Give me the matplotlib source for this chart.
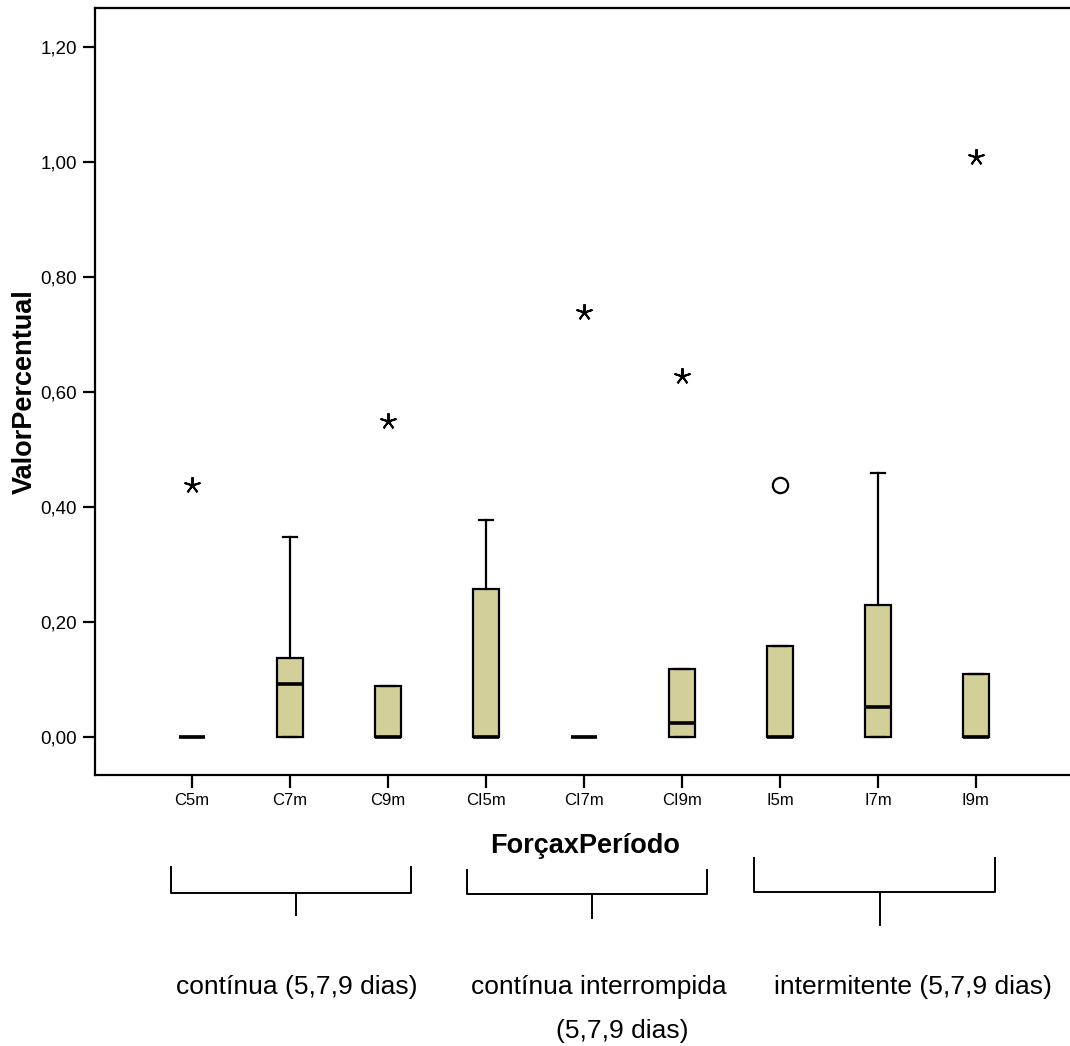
import numpy as np
import matplotlib
matplotlib.use("Agg")
import matplotlib.pyplot as plt
from matplotlib.transforms import blended_transform_factory

plt.rcParams['font.family'] = ['Liberation Sans', 'DejaVu Sans']

# box statistics
categories = ['C5m', 'C7m', 'C9m', 'CI5m', 'CI7m', 'CI9m', 'I5m', 'I7m', 'I9m']
q1 = [0.0, 0.0, 0.0, 0.0, 0.0, 0.0, 0.0, 0.0, 0.0]
medians = [0.0, 0.093, 0.0, 0.0, 0.0, 0.024, 0.0, 0.053, 0.0]
q3 = [0.0, 0.138, 0.088, 0.258, 0.0, 0.119, 0.159, 0.229, 0.109]
whis_hi = [0.0, 0.348, 0.088, 0.378, 0.0, 0.119, 0.159, 0.459, 0.109]
# extreme values (stars) and outliers (circles)
extreme_cat = ['C5m', 'C9m', 'CI7m', 'CI9m', 'I9m']
extreme_val = [0.438, 0.55, 0.739, 0.628, 1.009]
outlier_cat = ['I5m']
outlier_val = [0.438]

group_line1 = ['contínua (5,7,9 dias)', 'contínua interrompida', 'intermitente (5,7,9 dias)']
group_line2 = ['', '(5,7,9 dias)', '']

yticks = [0.0, 0.2, 0.4, 0.6, 0.8, 1.0, 1.2]

fig = plt.figure(figsize=(10.70, 10.46), dpi=100)
ax = fig.add_axes([95 / 1070, 1 - 775 / 1046, 1 - 95 / 1070, 767 / 1046])

pos = np.arange(len(categories))
stats = []
for i, c in enumerate(categories):
    stats.append(dict(label=c, q1=q1[i], med=medians[i], q3=q3[i],
                      whislo=q1[i], whishi=whis_hi[i], fliers=[]))

ax.bxp(stats, positions=pos, widths=0.27, showfliers=False, patch_artist=True,
       boxprops=dict(facecolor='#d3cf98', edgecolor='black', linewidth=1.6),
       medianprops=dict(color='black', linewidth=2.6, solid_capstyle='butt'),
       whiskerprops=dict(color='black', linewidth=1.6),
       capprops=dict(color='black', linewidth=1.6), capwidths=0.14)

ex_x = [categories.index(c) for c in extreme_cat]
ax.plot(ex_x, extreme_val, linestyle='none', marker=(5, 2, 0), markersize=12,
        markeredgewidth=1.4, color='black')
out_x = [categories.index(c) for c in outlier_cat]
ax.plot(out_x, outlier_val, linestyle='none', marker='o', markersize=11,
        markerfacecolor='white', markeredgecolor='black', markeredgewidth=1.6)

ax.set_xlim(-0.99, 8.96)
ax.set_ylim(-0.066, 1.268)
ax.set_xticks(pos)
ax.set_xticklabels(categories, fontsize=12)
ax.set_yticks(yticks)
ax.set_yticklabels([f'{v:.2f}'.replace('.', ',') for v in yticks], fontsize=13.5)
ax.tick_params(direction='out', length=9, width=1.6, pad=4)
for s in ['left', 'bottom', 'top']:
    ax.spines[s].set_linewidth(1.6)
ax.spines['right'].set_visible(False)

ax.set_xlabel('ForçaxPeríodo', fontsize=19.5, fontweight='bold')
ax.xaxis.set_label_coords((585 - 95) / 975, -(833 - 775) / 767)
ax.set_ylabel('ValorPercentual', fontsize=19.5, fontweight='bold')
ax.yaxis.set_label_coords(-(95 - 38) / 975, (775 - 392) / 767)

# group brackets below the axis
tr = blended_transform_factory(ax.transData, fig.transFigure)
br_left = [-0.21, 2.81, 5.74]
br_right = [2.23, 5.26, 8.19]
br_stem_x = [1.06, 4.08, 7.02]
br_top = [867, 870, 858]
br_bar = [893, 894, 892]
br_stem = [915, 918, 925]
txt_x1 = [1.07, 4.15, 7.36]
txt_x2 = [1.07, 4.39, 7.36]
for g in range(len(group_line1)):
    x0, x1, xc = br_left[g], br_right[g], br_stem_x[g]
    yt, yb, ys = [1 - v / 1046 for v in (br_top[g], br_bar[g], br_stem[g])]
    ax.plot([x0, x0, x1, x1], [yt, yb, yb, yt], color='black', linewidth=1.4,
            transform=tr, clip_on=False)
    ax.plot([xc, xc], [yb, ys], color='black', linewidth=1.4,
            transform=tr, clip_on=False)
    ax.text(txt_x1[g], 1 - 975 / 1046, group_line1[g],
            transform=tr, ha='center', va='top', fontsize=19)
    if group_line2[g]:
        ax.text(txt_x2[g], 1 - 1019 / 1046, group_line2[g],
                transform=tr, ha='center', va='top', fontsize=19)

fig.savefig('out.png', dpi=100)
